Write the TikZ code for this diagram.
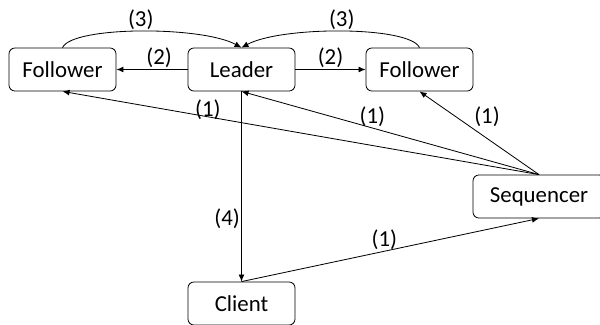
\documentclass[tikz,border=0pt]{standalone}
\usepackage{fontspec}
\setmainfont{Carlito}
\usepackage{tikz}
\usetikzlibrary{arrows.meta, positioning, calc}
\definecolor{mydark}{RGB}{0,0,0}
\tikzset{
  box/.style={rectangle, draw=mydark, fill=white,
    minimum width=3.21cm, minimum height=1.29cm,
    font=\fontsize{19.5}{23}\selectfont, rounded corners=5pt, line width=0.7pt},
  arrow/.style={-{Latex[length=6pt,width=5pt]}, line width=0.7pt, color=mydark},
  lbl/.style={font=\fontsize{19.5}{23}\selectfont, inner sep=1pt}
}

\begin{document}
\begin{tikzpicture}
    \useasboundingbox (0,0) rectangle (18,9.72);

    % Nodes
    \node[box] (follA) at (1.875,7.635) {Follower};
    \node[box] (leader) at (7.245,7.635) {Leader};
    \node[box] (follB) at (12.585,7.635) {Follower};
    \node[box, minimum width=3.96cm] (sequencer) at (16.17,3.825) {Sequencer};
    \node[box] (client) at (7.245,0.615) {Client};

    % Client request to sequencer
    \draw[arrow] (client.north) -- node[lbl, above, pos=0.48] {(1)} (sequencer.south);

    % Sequencer to all replicas
    \draw[arrow] (sequencer.north) -- node[lbl, pos=0.695, yshift=6pt] {(1)} (follA.south);
    \draw[arrow] (sequencer.north) -- node[lbl, pos=0.56, yshift=10pt] {(1)} (leader.south);
    \draw[arrow] (sequencer.north) -- node[lbl, pos=0.69, xshift=26pt] {(1)} (follB.south);

    % Leader to followers
    \draw[arrow] (leader.west) -- node[lbl, above, pos=0.4] {(2)} (follA.east);
    \draw[arrow] (leader.east) -- node[lbl, above] {(2)} (follB.west);

    % Followers acknowledge
    \draw[arrow] (follA.north) .. controls +(0.3,0.65) and +(-1.2,0.65) .. node[lbl, above] {(3)} (leader.north);
    \draw[arrow] (follB.north) .. controls +(-0.3,0.65) and +(1.2,0.65) .. node[lbl, above] {(3)} (leader.north);

    % Reply to client
    \draw[arrow] (leader.south) -- node[lbl, left, pos=0.67] {(4)} (client.north);
\end{tikzpicture}
\end{document}
